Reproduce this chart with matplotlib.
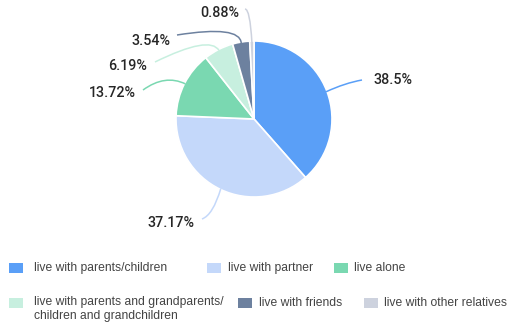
import numpy as np
import matplotlib.pyplot as plt
from matplotlib.path import Path
from matplotlib.patches import PathPatch, Rectangle

# données
categories = ["live with parents/children", "live with partner", "live alone",
              "live with parents and grandparents/\nchildren and grandchildren",
              "live with friends", "live with other relatives"]
valeurs = [38.5, 37.17, 13.72, 6.19, 3.54, 0.88]
etiquettes = ["38.5%", "37.17%", "13.72%", "6.19%", "3.54%", "0.88%"]
couleurs = ["#5a9ff7", "#c4d8fa", "#7ad8b1", "#c7efdf", "#6d819f", "#cdd2de"]

W, H = 507, 323
cx, cy, r = 254, 119, 78

def py(y):
    return H - y

fig = plt.figure(figsize=(W / 100, H / 100), dpi=100)
ax = fig.add_axes([0, 0, 1, 1])
ax.pie(valeurs, colors=couleurs, startangle=90, counterclock=False,
       center=(cx, py(cy)), radius=r, frame=True,
       wedgeprops=dict(edgecolor="white", linewidth=1.2))
ax.set_xlim(0, W)
ax.set_ylim(0, H)
ax.set_aspect("equal")
ax.axis("off")

# position des étiquettes (x, y, alignement), coude et fin de la ligne
placement = [
    ((373, 80), "left", (345, 83)),
    ((195, 223), "right", (213, 215)),
    ((136, 93), "right", (165, 74)),
    ((147, 66), "right", (210, 35)),
    ((170, 41), "right", (240, 25)),
    ((239, 13), "right", (250, 9)),
]
fins = [(362, 80), (202, 219), (143, 90), (155, 62), (177, 35), (245, 9)]

cumul = np.cumsum([0] + valeurs[:-1])
for i, v in enumerate(valeurs):
    ang = np.deg2rad((cumul[i] + v / 2) / 100 * 360)
    x0 = cx + (r - 1) * np.sin(ang)
    y0 = cy - (r - 1) * np.cos(ang)
    (tx, ty), ha, (ex, ey) = placement[i]
    fx, fy = fins[i]
    path = Path([(x0, py(y0)), (ex, py(ey)), (fx, py(fy))],
                [Path.MOVETO, Path.CURVE3, Path.CURVE3])
    ax.add_patch(PathPatch(path, facecolor="none", edgecolor=couleurs[i], lw=1.1))
    ax.text(tx, py(ty), etiquettes[i], ha=ha, va="center", fontsize=10.3,
            family="Roboto", fontweight="medium", color="#262626")

# légende : carré (x, y) et début du texte
legende = [(9, 268, 34), (207, 268, 228), (334, 268, 354),
           (9, 303, 34), (238, 303, 259), (364, 303, 384)]
for i, nom in enumerate(categories):
    lx, ly, tx = legende[i]
    ax.add_patch(Rectangle((lx, py(ly) - 5), 14, 10, facecolor=couleurs[i], edgecolor="none"))
    if "\n" in nom:
        ax.text(tx, py(ly - 7), nom, ha="left", va="top", fontsize=8.7,
                family="Liberation Sans", color="#444444", linespacing=1.25)
    else:
        ax.text(tx, py(ly), nom, ha="left", va="center", fontsize=8.7,
                family="Liberation Sans", color="#444444")

fig.savefig("out.png", dpi=100)
